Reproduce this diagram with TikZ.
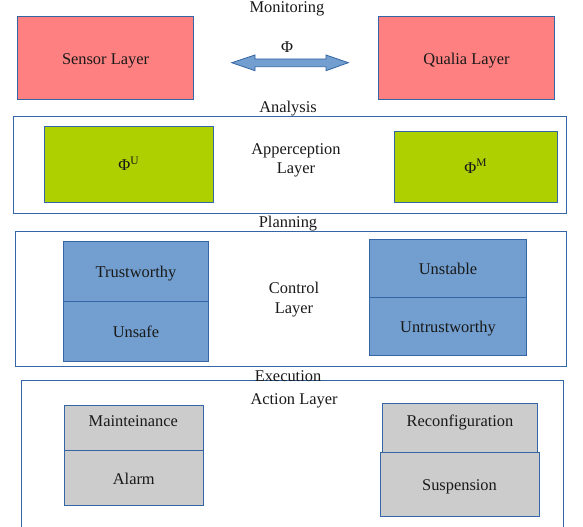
\documentclass[tikz,border=0pt]{standalone}
\usepackage{fontspec}
\setmainfont{Liberation Serif}
\definecolor{bord}{HTML}{3465A4}
\definecolor{pinkf}{HTML}{FF8080}
\definecolor{greenf}{HTML}{AECF00}
\definecolor{bluef}{HTML}{729FCF}
\definecolor{grayf}{HTML}{CCCCCC}
\begin{document}
\begin{tikzpicture}[x=1bp,y=-1bp,
  every node/.style={font=\fontsize{16.4bp}{19.2bp}\selectfont, text=black!90},
  box/.style={draw=bord, line width=1bp, rectangle, inner sep=0pt, text height=13bp, text depth=0bp},
  frame/.style={draw=bord, line width=1bp, fill=none},
  txt/.style={inner sep=0pt, align=center}]
\useasboundingbox (0,0) rectangle (583,527);
% frames
\draw[frame] (13.3,116.7) rectangle (566.3,214);
\draw[frame] (15.3,231.3) rectangle (566.3,366);
\draw[frame] (21.3,540) -- (21.3,380.3) -- (563,380.3) -- (563,540);
% top boxes
\node[box, fill=pinkf, minimum width=176.4bp, minimum height=83bp] (sensor) at (105.5,57.8) {Sensor Layer};
\node[box, fill=pinkf, minimum width=176.4bp, minimum height=83bp] (qualia) at (466.5,57.8) {Qualia Layer};
\draw[draw=bord, fill=bluef, line width=0.8bp] (231.7,62.7) -- (255,55) -- (255,59) -- (326,59) -- (326,55) -- (348.3,62.7) -- (326,70.7) -- (326,66.7) -- (255,66.7) -- (255,70.7) -- cycle;
\node[txt] (phi) at (287,47.5) {Φ};
\node[txt] (monitoring) at (287,9) {Monitoring};
\node[txt] (analysis) at (288,108.5) {Analysis};
% apperception
\node[box, fill=greenf, minimum width=169bp, minimum height=75.7bp] (phiU) at (128.8,164.2) {Φ\textsuperscript{U}};
\node[box, fill=greenf, minimum width=163bp, minimum height=70.7bp] (phiM) at (475.8,166.7) {Φ\textsuperscript{M}};
\node[txt] (apper) at (296,160) {Apperception\\Layer};
\node[txt] (planning) at (288,223.5) {Planning};
% control
\node[box, fill=bluef, minimum width=145.4bp, minimum height=60bp] (trust) at (136,271.3) {Trustworthy};
\node[box, fill=bluef, minimum width=145.4bp, minimum height=59.7bp] (unsafe) at (136,331.2) {Unsafe};
\node[box, fill=bluef, minimum width=157.4bp, minimum height=58bp] (unstable) at (448,268.3) {Unstable};
\node[box, fill=bluef, minimum width=157.4bp, minimum height=58bp] (untrust) at (448,326.3) {Untrustworthy};
\node[txt] (control) at (294,299.5) {Control\\Layer};
\node[txt] (execution) at (288,376) {Execution};
% action
\node[txt] (action) at (294,400.5) {Action Layer};
\node[box, fill=grayf, minimum width=139bp, minimum height=44.6bp] (maint) at (133.8,428) {};
\node[txt] (mainttxt) at (133.3,421.5) {Mainteinance};
\node[box, fill=grayf, minimum width=139bp, minimum height=54.7bp] (alarm) at (133.8,477.7) {Alarm};
\node[box, fill=grayf, minimum width=154.7bp, minimum height=48.7bp] (reconf) at (459.7,427.7) {};
\node[txt] (reconftxt) at (460,422) {Reconfiguration};
\node[box, fill=grayf, minimum width=159bp, minimum height=64bp] (susp) at (459.5,484) {Suspension};
\end{tikzpicture}
\end{document}
